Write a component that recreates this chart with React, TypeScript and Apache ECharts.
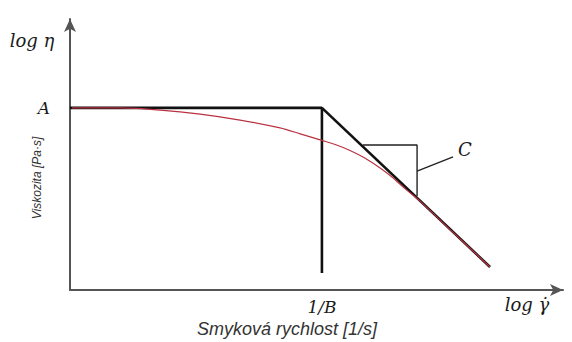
import React, { useEffect, useRef } from 'react';
import * as echarts from 'echarts';

// Sketch coordinates (log shear rate on x, log viscosity on y), both 0..10
const plateauAndBreak: [number, number][] = [
  [0, 6.72],
  [5.11, 6.72],
  [5.11, 0.63],
];
const powerLawLine: [number, number][] = [
  [5.11, 6.72],
  [8.52, 0.85],
];
const viscosityCurve: [number, number][] = [
  [0.04, 6.72],
  [1.01, 6.72],
  [1.83, 6.64],
  [2.64, 6.49],
  [3.45, 6.27],
  [4.26, 5.98],
  [4.67, 5.76],
  [5.11, 5.52],
  [5.38, 5.37],
  [5.68, 5.15],
  [5.98, 4.87],
  [6.29, 4.5],
  [6.53, 4.17],
  [6.8, 3.73],
  [7.1, 3.28],
  [7.71, 2.23],
  [8.52, 0.85],
];
const slopeTriangle: [number, number][] = [
  [5.94, 5.35],
  [7.04, 5.35],
  [7.04, 3.47],
];
const slopeLeader: [number, number][] = [
  [7.04, 4.39],
  [7.77, 4.91],
];
const slopeLabelPos: [number, number] = [8.01, 5.2];
const slopeLabel = 'C';

const xTickValues = [5.11];
const xTickLabels = ['1/B'];
const yTickValues = [6.72];
const yTickLabels = ['A'];

const xAxisSymbol = 'log γ̇';
const yAxisSymbol = 'log η';
const xAxisTitle = 'Smyková rychlost [1/s]';
const yAxisTitle = 'Viskozita [Pa·s]';

const serif = 'DejaVu Serif';
const sans = 'Liberation Sans';

export default function App() {
  const ref = useRef<HTMLDivElement>(null);
  useEffect(() => {
    if (!ref.current) return;
    const chart = echarts.init(ref.current, undefined, { renderer: 'svg' });
    const axisLineStyle = { color: '#555', width: 2 };
    chart.setOption({
      animation: false,
      backgroundColor: '#ffffff',
      grid: { left: 70, right: 9, top: 19, bottom: 52 },
      xAxis: {
        type: 'value',
        min: 0,
        max: 10,
        splitLine: { show: false },
        axisTick: { show: false },
        axisLine: {
          show: true,
          onZero: false,
          lineStyle: axisLineStyle,
          symbol: ['none', 'arrow'],
          symbolSize: [9, 13],
        },
        axisLabel: {
          customValues: xTickValues,
          formatter: (v: number) => {
            const i = xTickValues.findIndex((t) => Math.abs(t - v) < 1e-6);
            return i >= 0 ? xTickLabels[i] : '';
          },
          margin: 8,
          fontFamily: serif,
          fontStyle: 'italic',
          fontSize: 17,
          color: '#1a1a1a',
        },
      },
      yAxis: {
        type: 'value',
        min: 0,
        max: 10,
        splitLine: { show: false },
        axisTick: { show: false },
        axisLine: {
          show: true,
          onZero: false,
          lineStyle: axisLineStyle,
          symbol: ['none', 'arrow'],
          symbolSize: [9, 13],
        },
        axisLabel: {
          customValues: yTickValues,
          formatter: (v: number) => {
            const i = yTickValues.findIndex((t) => Math.abs(t - v) < 1e-6);
            return i >= 0 ? yTickLabels[i] : '';
          },
          margin: 20,
          fontFamily: serif,
          fontStyle: 'italic',
          fontSize: 17,
          color: '#1a1a1a',
        },
      },
      series: [
        {
          type: 'line',
          data: plateauAndBreak,
          showSymbol: false,
          lineStyle: { color: '#111', width: 2.6 },
          z: 2,
        },
        {
          type: 'line',
          data: powerLawLine,
          showSymbol: false,
          lineStyle: { color: '#111', width: 2.6 },
          z: 2,
        },
        {
          type: 'line',
          data: slopeTriangle,
          showSymbol: false,
          lineStyle: { color: '#222', width: 1.4 },
          z: 2,
        },
        {
          type: 'line',
          data: slopeLeader,
          showSymbol: false,
          lineStyle: { color: '#222', width: 1.4 },
          z: 2,
        },
        {
          type: 'line',
          data: viscosityCurve,
          showSymbol: false,
          smooth: 0.3,
          lineStyle: { color: '#b8323f', width: 1.2 },
          z: 3,
        },
      ],
    });
    const cPos = chart.convertToPixel({ gridIndex: 0 }, slopeLabelPos) as number[];
    chart.setOption({
      graphic: [
        {
          type: 'text',
          x: 32,
          y: 40,
          style: {
            text: yAxisSymbol,
            font: `italic 18px "${serif}"`,
            fill: '#1a1a1a',
            align: 'center',
            verticalAlign: 'middle',
          },
        },
        {
          type: 'text',
          x: 527,
          y: 304,
          style: {
            text: xAxisSymbol,
            font: `italic 18px "${serif}"`,
            fill: '#1a1a1a',
            align: 'center',
            verticalAlign: 'middle',
          },
        },
        {
          type: 'text',
          x: cPos[0],
          y: cPos[1],
          style: {
            text: slopeLabel,
            font: `italic 18px "${serif}"`,
            fill: '#1a1a1a',
            align: 'center',
            verticalAlign: 'middle',
          },
        },
        {
          type: 'text',
          x: 287,
          y: 329,
          style: {
            text: xAxisTitle,
            font: `italic 18px "${sans}"`,
            fill: '#333',
            align: 'center',
            verticalAlign: 'middle',
          },
        },
        {
          type: 'text',
          x: 37,
          y: 178,
          rotation: Math.PI / 2,
          style: {
            text: yAxisTitle,
            font: `italic 12px "${sans}"`,
            fill: '#333',
            align: 'center',
            verticalAlign: 'middle',
          },
        },
      ],
    });
    return () => chart.dispose();
  }, []);
  return (
    <div
      ref={ref}
      style={{ position: 'fixed', left: 0, top: 0, width: 572, height: 342 }}
    />
  );
}
